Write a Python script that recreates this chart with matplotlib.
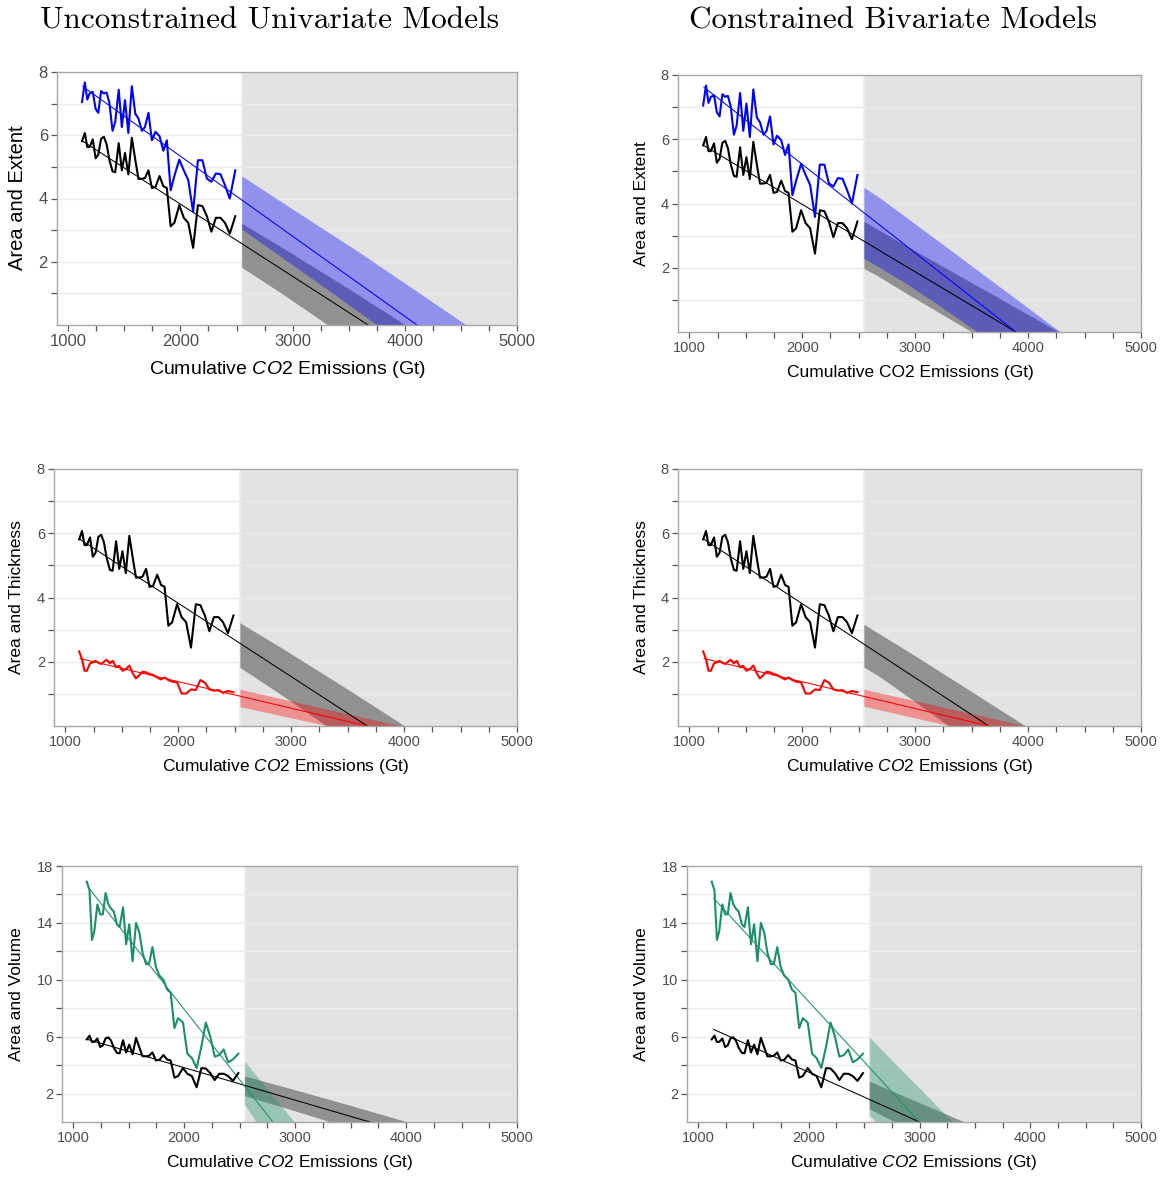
import numpy as np
import matplotlib
matplotlib.use('Agg')
import matplotlib.pyplot as plt
from matplotlib.ticker import FixedLocator

plt.rcParams['font.family'] = ['Liberation Sans', 'DejaVu Sans']
plt.rcParams['mathtext.fontset'] = 'custom'
plt.rcParams['mathtext.rm'] = 'Liberation Sans'
plt.rcParams['mathtext.it'] = 'Liberation Sans:italic'

# ---------------- data ----------------
emissions = [1123, 1148, 1170, 1191, 1219, 1244, 1268, 1293, 1318, 1342, 1367, 1395, 1419, 1450,
             1478, 1506, 1536, 1567, 1598, 1626, 1657, 1684, 1715, 1746, 1777, 1814, 1848, 1879,
             1913, 1946, 1990, 2030, 2070, 2113, 2156, 2196, 2236, 2276, 2316, 2357, 2397, 2440, 2489]
area = [5.81, 6.07, 5.63, 5.63, 5.87, 5.27, 5.39, 5.89, 5.95, 5.72, 5.22, 4.86, 4.83, 5.75,
        4.89, 5.44, 4.76, 5.92, 5.22, 4.62, 4.62, 4.65, 4.89, 4.33, 4.36, 4.71, 4.39, 4.33,
        3.12, 3.23, 3.79, 3.39, 3.23, 2.44, 3.79, 3.76, 3.44, 2.95, 3.39, 3.39, 3.23, 2.89, 3.44]
extent = [7.05, 7.67, 7.13, 7.32, 7.37, 6.84, 6.71, 7.40, 7.32, 7.35, 7.02, 6.14, 6.42, 7.44,
          6.26, 7.11, 6.07, 7.55, 6.68, 6.53, 6.14, 6.26, 6.71, 5.84, 6.11, 5.97, 5.51, 5.84,
          4.26, 4.71, 5.23, 4.89, 4.58, 3.58, 5.21, 5.21, 4.63, 4.53, 4.79, 4.77, 4.42, 4.00, 4.89]
thickness = [2.32, 2.08, 1.72, 1.72, 1.95, 1.98, 2.03, 1.97, 1.93, 2.00, 2.06, 1.95, 2.03, 1.83,
             1.87, 1.72, 1.77, 1.88, 1.64, 1.48, 1.59, 1.69, 1.67, 1.62, 1.59, 1.51, 1.45, 1.51,
             1.43, 1.38, 1.36, 1.01, 1.01, 1.14, 1.12, 1.43, 1.35, 1.14, 1.10, 1.12, 1.03, 1.09, 1.05]
volume = [16.9, 16.3, 12.8, 13.4, 15.3, 14.6, 14.6, 16.1, 15.3, 15.0, 14.8, 13.9, 13.7, 15.1,
          12.5, 13.9, 11.3, 14.0, 13.3, 11.9, 11.1, 11.1, 12.3, 10.9, 10.3, 10.0, 9.3, 9.1,
          6.6, 7.3, 7.0, 4.8, 4.5, 3.8, 5.3, 7.0, 6.0, 4.6, 4.7, 5.1, 4.2, 4.4, 4.8]

projection_start = 2550
projection_end = 5000

# fitted lines: (x endpoints, y endpoints)
fit_area_uni = ([1130, 3674], [5.81, 0.0])
fit_extent_uni = ([1130, 4109], [7.54, 0.0])
fit_thick_uni = ([1131, 3670], [2.10, 0.0])
fit_volume_uni = ([1143, 2800], [16.44, 0.0])
fit_area_biv_ext = ([1130, 3893], [5.80, 0.0])
fit_extent_biv = ([1130, 3893], [7.62, 0.0])
fit_area_biv_thk = ([1131, 3652], [5.81, 0.0])
fit_thick_biv = ([1131, 3652], [2.10, 0.0])
fit_area_biv_vol = ([1141, 3000], [6.51, 0.0])
fit_volume_biv = ([1141, 3000], [15.73, 0.0])

# projection bands: upper edge (x, y), lower edge (x, y)
band_area_uni = (([2550, 2950, 3500, 4005], [3.20, 2.35, 1.14, 0.0]),
                 ([2550, 2650, 2950, 3313], [1.81, 1.58, 0.88, 0.0]))
band_extent_uni = (([2550, 3000, 3600, 4547], [4.70, 3.66, 2.28, 0.0]),
                   ([2550, 2950, 3350, 3750], [3.02, 2.02, 1.02, 0.0]))
band_thick_uni = (([2550, 3956], [1.13, 0.0]), ([2550, 3315], [0.59, 0.0]))
band_volume_uni = (([2550, 2994], [4.24, 0.0]), ([2550, 2650], [1.20, 0.0]))
band_area_biv_ext = (([2550, 3000, 3600, 4270], [3.43, 2.52, 1.33, 0.0]),
                     ([2550, 2650, 2950, 3500], [1.96, 1.78, 1.14, 0.0]))
band_extent_biv = (([2550, 2700, 3300, 4284], [4.49, 4.14, 2.58, 0.0]),
                   ([2550, 2900, 3200, 3550], [2.28, 1.55, 0.85, 0.0]))
band_area_biv_thk = (([2550, 3000, 3976], [3.15, 2.18, 0.0]),
                     ([2550, 2700, 3298], [1.82, 1.50, 0.0]))
band_thick_biv = (([2550, 3970], [1.13, 0.0]), ([2550, 3300], [0.60, 0.0]))
band_area_biv_vol = (([2550, 3400], [2.84, 0.0]), ([2550, 2775], [0.90, 0.0]))
band_volume_biv = (([2550, 3300], [5.93, 0.0]), ([2550, 2610], [0.45, 0.0]))

BLUE = '#0000ff'
RED = '#ff0000'
GREEN = '#1a9165'
BLACK = '#000000'

# ---------------- figure ----------------
W, H = 1164, 1178
fig = plt.figure(figsize=(W / 100, H / 100), dpi=100)


def add_axes(l, r, t, b):
    return fig.add_axes([l / W, 1 - b / H, (r - l) / W, (b - t) / H])


def draw_band(ax, band, color):
    (ux, uy), (lx, ly) = band
    px = list(ux) + list(lx)[::-1]
    py = list(uy) + list(ly)[::-1]
    ax.fill(px, py, color=color, alpha=0.36, lw=0, zorder=1)


def panel(ax, ymax, ymajor, yminor, items, fs_tick):
    ax.set_xlim(900, 5000)
    ax.set_ylim(0, ymax)
    ax.axvspan(projection_start, projection_end, color='#e3e3e3', lw=0, zorder=0)
    ax.axvline(projection_start, color='#eeeeee', lw=1.2, zorder=0.2)
    for y in sorted(ymajor + yminor):
        if y < ymax:
            ax.axhline(y, color='#ebebeb', lw=1.0, zorder=0.5)
    for series, color, fit, band in items:
        draw_band(ax, band, color)
    for series, color, fit, band in items:
        ax.plot(fit[0], fit[1], color=color, lw=0.75, zorder=2)
    for series, color, fit, band in items:
        ax.plot(emissions, series, color=color, lw=1.5, zorder=3)
    ax.set_xticks([1000, 2000, 3000, 4000, 5000])
    ax.xaxis.set_minor_locator(FixedLocator([v for v in range(1250, 5000, 250) if v % 1000]))
    ax.set_yticks(ymajor)
    ax.yaxis.set_minor_locator(FixedLocator(yminor))
    ax.tick_params(which='both', direction='out', length=4.5, width=0.9, color='#555555',
                   labelcolor='#4d4d4d', labelsize=fs_tick, pad=2)
    for s in ax.spines.values():
        s.set_color('#a6a6a6')
        s.set_linewidth(1.0)


xl_it = r'Cumulative $\mathit{CO2}$ Emissions (Gt)'
xl_rm = 'Cumulative CO2 Emissions (Gt)'

# top-left
ax = add_axes(57, 517, 72, 325)
panel(ax, 8, [2, 4, 6, 8], [1, 3, 5, 7],
      [(area, BLACK, fit_area_uni, band_area_uni), (extent, BLUE, fit_extent_uni, band_extent_uni)], 12)
fig.text(18 / W, 1 - 198 / H, 'Area and Extent', rotation=90, ha='center', va='center', fontsize=14.5)
fig.text(288 / W, 1 - 370 / H, xl_it, ha='center', va='center', fontsize=14)

# top-right
ax = add_axes(678, 1141, 75, 332)
panel(ax, 8, [2, 4, 6, 8], [1, 3, 5, 7],
      [(area, BLACK, fit_area_biv_ext, band_area_biv_ext), (extent, BLUE, fit_extent_biv, band_extent_biv)], 10.5)
fig.text(642 / W, 1 - 204 / H, 'Area and Extent', rotation=90, ha='center', va='center', fontsize=12.5)
fig.text(910 / W, 1 - 372 / H, xl_rm, ha='center', va='center', fontsize=12.5)

# middle-left
ax = add_axes(54, 517, 469, 726)
panel(ax, 8, [2, 4, 6, 8], [1, 3, 5, 7],
      [(area, BLACK, fit_area_uni, band_area_uni), (thickness, RED, fit_thick_uni, band_thick_uni)], 10.5)
fig.text(17 / W, 1 - 597 / H, 'Area and Thickness', rotation=90, ha='center', va='center', fontsize=12.5)
fig.text(286 / W, 1 - 766 / H, xl_it, ha='center', va='center', fontsize=12.5)

# middle-right
ax = add_axes(678, 1141, 469, 726)
panel(ax, 8, [2, 4, 6, 8], [1, 3, 5, 7],
      [(area, BLACK, fit_area_biv_thk, band_area_biv_thk), (thickness, RED, fit_thick_biv, band_thick_biv)], 10.5)
fig.text(642 / W, 1 - 597 / H, 'Area and Thickness', rotation=90, ha='center', va='center', fontsize=12.5)
fig.text(910 / W, 1 - 766 / H, xl_it, ha='center', va='center', fontsize=12.5)

# bottom-left
ax = add_axes(62, 517, 866, 1122)
panel(ax, 18, [2, 6, 10, 14, 18], [4, 8, 12, 16],
      [(area, BLACK, fit_area_uni, band_area_uni), (volume, GREEN, fit_volume_uni, band_volume_uni)], 10.5)
fig.text(17 / W, 1 - 994 / H, 'Area and Volume', rotation=90, ha='center', va='center', fontsize=12.5)
fig.text(290 / W, 1 - 1163 / H, xl_it, ha='center', va='center', fontsize=12.5)

# bottom-right
ax = add_axes(687, 1141, 866, 1122)
panel(ax, 18, [2, 6, 10, 14, 18], [4, 8, 12, 16],
      [(area, BLACK, fit_area_biv_vol, band_area_biv_vol), (volume, GREEN, fit_volume_biv, band_volume_biv)], 10.5)
fig.text(642 / W, 1 - 994 / H, 'Area and Volume', rotation=90, ha='center', va='center', fontsize=12.5)
fig.text(914 / W, 1 - 1163 / H, xl_it, ha='center', va='center', fontsize=12.5)

# titles
fig.text(270 / W, 1 - 21 / H, 'Unconstrained Univariate Models', ha='center', va='center',
         fontsize=22.5, family='cmr10')
fig.text(893 / W, 1 - 21 / H, 'Constrained Bivariate Models', ha='center', va='center',
         fontsize=22.5, family='cmr10')

fig.savefig('out.png', dpi=100)
